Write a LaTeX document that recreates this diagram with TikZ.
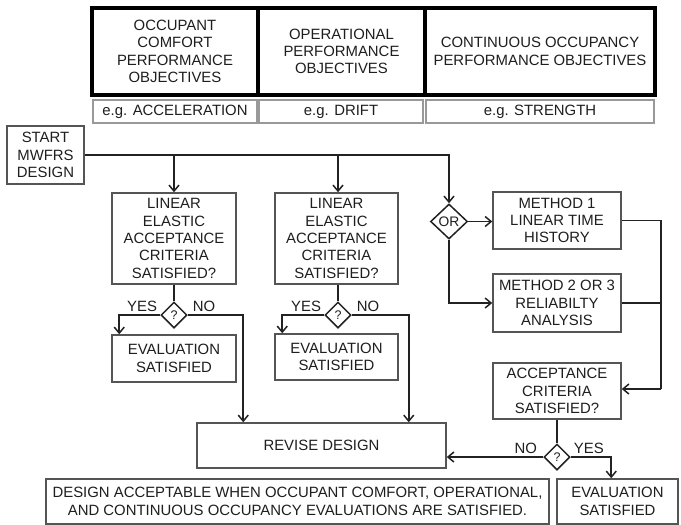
\documentclass[tikz,border=0pt]{standalone}
\usepackage{fontspec}
\setmainfont{Liberation Sans}
\usetikzlibrary{shapes.geometric,arrows.meta,calc}
\definecolor{txt}{HTML}{1E1E1E}
\definecolor{bx}{HTML}{555555}
\definecolor{egb}{HTML}{999999}
\definecolor{ln}{HTML}{222222}
\begin{document}
\begin{tikzpicture}[x=1pt,y=-1pt,
  every node/.style={text=txt,font=\fontsize{14.9pt}{17.3pt}\selectfont,inner sep=0pt,align=center},
  hdr/.style={draw=black,line width=3.5pt,minimum height=87pt},
  egbox/.style={draw=egb,line width=1.3pt,minimum height=23pt},
  box/.style={draw=bx,line width=1.5pt},
  dia/.style={draw=ln,line width=1.5pt,diamond,aspect=1,minimum width=26pt,minimum height=26pt,font=\fontsize{12.5pt}{14pt}\selectfont},
  conn/.style={draw=ln,line width=1.6pt},
  arr/.style={conn,-{Straight Barb[length=6pt,width=10pt,line width=1.5pt]}},
  lbl/.style={inner sep=0pt}]
\useasboundingbox (0,0) rectangle (681,525);
% header
\node[hdr,minimum width=166pt] (h1) at (175,51.5) {OCCUPANT\\COMFORT\\PERFORMANCE\\OBJECTIVES};
\node[hdr,minimum width=167pt] (h2) at (341.5,51.5) {OPERATIONAL\\PERFORMANCE\\OBJECTIVES};
\node[hdr,minimum width=230pt] (h3) at (540,51.5) {CONTINUOUS OCCUPANCY\\PERFORMANCE OBJECTIVES};
\node[egbox,minimum width=164pt] (e1) at (175,111.5) {e.g. ACCELERATION};
\node[egbox,minimum width=164pt] (e2) at (341,111.5) {e.g. DRIFT};
\node[egbox,minimum width=228pt] (e3) at (540,111.5) {e.g. STRENGTH};
% start
\node[box,minimum width=77pt,minimum height=58pt] (start) at (45.5,155) {START\\MWFRS\\DESIGN};
% column 1
\node[box,minimum width=124pt,minimum height=91pt] (lin1) at (174,238.5) {LINEAR\\ELASTIC\\ACCEPTANCE\\CRITERIA\\SATISFIED?};
\node[dia] (q1) at (174,315) {?};
\node[box,minimum width=124pt,minimum height=47pt] (ev1) at (174,358.5) {EVALUATION\\SATISFIED};
% column 2
\node[box,minimum width=123pt,minimum height=91pt] (lin2) at (336.5,238.5) {LINEAR\\ELASTIC\\ACCEPTANCE\\CRITERIA\\SATISFIED?};
\node[dia] (q2) at (338,315) {?};
\node[box,minimum width=123pt,minimum height=46pt] (ev2) at (336.5,357) {EVALUATION\\SATISFIED};
% column 3
\node[dia,minimum width=37pt,minimum height=35pt,font=\fontsize{13.8pt}{15pt}\selectfont] (or) at (449,221.5) {OR};
\node[box,minimum width=128pt,minimum height=57pt] (m1) at (557,220.5) {METHOD 1\\LINEAR TIME\\HISTORY};
\node[box,minimum width=128pt,minimum height=58pt] (m2) at (557,303) {METHOD 2 OR 3\\RELIABILTY\\ANALYSIS};
\node[box,minimum width=128pt,minimum height=56pt] (acc) at (557,391) {ACCEPTANCE\\CRITERIA\\SATISFIED?};
\node[dia] (q3) at (557,457) {?};
\node[box,minimum width=121pt,minimum height=45pt] (ev3) at (617.5,501.5) {EVALUATION\\SATISFIED};
% bottom
\node[box,minimum width=249pt,minimum height=45pt] (rev) at (321.5,445.5) {REVISE DESIGN};
\node[box,minimum width=503pt,minimum height=45pt] (note) at (297.5,501.5) {DESIGN ACCEPTABLE WHEN OCCUPANT COMFORT, OPERATIONAL,\\AND CONTINUOUS OCCUPANCY EVALUATIONS ARE SATISFIED.};
% trunk
\draw[arr] (start.east) -| (or.north);
\draw[arr] (start.east -| lin1.north) -- (lin1.north);
\draw[arr] (start.east -| q2.north) -- (q2.north |- lin2.north);
% column 1 connectors
\draw[conn] (lin1.south) -- (q1.north);
\coordinate (y1) at ($(ev1.north west)+(8,0)$);
\coordinate (n1) at ($(rev.north west)+(47,0)$);
\draw[arr] (q1.west) -| (y1);
\draw[arr] (q1.east) -| (n1);
\node[lbl,anchor=base east] (yes1) at ($(q1.west)+(-3,-4)$) {YES};
\node[lbl,anchor=base west] (no1) at ($(q1.east)+(5,-4)$) {NO};
% column 2 connectors
\draw[conn] (q2.north |- lin2.south) -- (q2.north);
\coordinate (y2) at ($(ev2.north west)+(8,0)$);
\coordinate (n2) at ($(rev.north east)+(-38,0)$);
\draw[arr] (q2.west) -| (y2);
\draw[arr] (q2.east) -| (n2);
\node[lbl,anchor=base east] (yes2) at ($(q2.west)+(-3,-4)$) {YES};
\node[lbl,anchor=base west] (no2) at ($(q2.east)+(5,-4)$) {NO};
% column 3 connectors
\draw[arr] (or.east) -- (m1.west |- or.east);
\draw[arr] (or.south) |- (m2.west);
\coordinate (rj) at (661,389);
\draw[conn] (m1.east) -| (rj);
\draw[conn] (m2.east) -- (m2.east -| rj);
\draw[arr] (rj) -- (rj -| acc.east);
\draw[conn] (acc.south) -- (q3.north);
\draw[arr] (q3.west) -- (q3.west -| rev.east);
\coordinate (y3) at ($(ev3.north west)+(55,0)$);
\draw[arr] (q3.east) -| (y3);
\node[lbl,anchor=base east] (no3) at ($(q3.west)+(-6,-4)$) {NO};
\node[lbl,anchor=base west] (yes3) at ($(q3.east)+(3,-4)$) {YES};
\end{tikzpicture}
\end{document}
